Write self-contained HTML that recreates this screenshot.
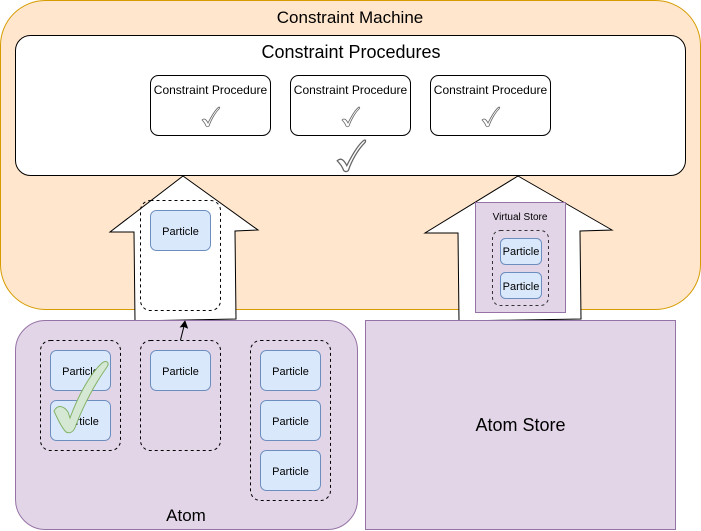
<!DOCTYPE html>
<html><head><meta charset="utf-8"><style>
html,body{margin:0;padding:0;background:#fff}
svg{display:block}
text{font-family:"Liberation Sans",Arial,sans-serif;fill:#000}
</style></head><body>
<svg width="701" height="531" viewBox="0 0 701 531" xmlns="http://www.w3.org/2000/svg">
<defs>
<path id="chk" d="M-8,3 C-6,1 -4,2 -2,6 C2,-2 6,-8 9,-10 C10,-10 10,-9 9,-8 C5,-4 1,3 -1,9 C-2,10 -3,10 -4,9 C-5,6 -7,4 -8,3 Z" fill="#fff" stroke="#666" stroke-width="0.8"/>
</defs>
<rect x="0.5" y="0.5" width="700" height="309" rx="45" fill="#ffe6cc" stroke="#d79b00"/>
<text x="350" y="23" font-size="17" text-anchor="middle">Constraint Machine</text>
<rect x="15.5" y="35.5" width="670" height="140" rx="15" fill="#fff" stroke="#000"/>
<text x="351" y="58" font-size="18" text-anchor="middle">Constraint Procedures</text>
<g font-size="12" text-anchor="middle">
<rect x="150.5" y="75.5" width="120" height="60" rx="8" fill="#fff" stroke="#000"/>
<text x="210.5" y="94">Constraint Procedure</text>
<rect x="290.5" y="75.5" width="120" height="60" rx="8" fill="#fff" stroke="#000"/>
<text x="350.5" y="94">Constraint Procedure</text>
<rect x="430.5" y="75.5" width="120" height="60" rx="8" fill="#fff" stroke="#000"/>
<text x="490.5" y="94">Constraint Procedure</text>
</g>
<use href="#chk" transform="translate(210,117)"/>
<use href="#chk" transform="translate(350,117)"/>
<use href="#chk" transform="translate(490,117)"/>
<use href="#chk" transform="translate(350,156) scale(1.6)"/>

<path d="M183,176 L258,230 L235,231 L236,319 L135,321 L134,232 L110,232 Z" fill="#fff" stroke="#000"/>
<rect x="140.5" y="200.5" width="80" height="110" rx="10" fill="none" stroke="#000" stroke-dasharray="3,3"/>
<rect x="150.5" y="210.5" width="60" height="40" rx="6" fill="#dae8fc" stroke="#6c8ebf"/>
<text x="180.5" y="235" font-size="11" text-anchor="middle">Particle</text>

<path d="M518,176 L612,230 L580,231 L581,319 L459,321 L458,233 L425,233 Z" fill="#fff" stroke="#000"/>
<rect x="475.5" y="202.5" width="90" height="110" fill="#e1d5e7" stroke="#9673a6"/>
<text x="520" y="220" font-size="10" text-anchor="middle">Virtual Store</text>
<rect x="492.5" y="230.5" width="56" height="75" rx="8" fill="none" stroke="#333" stroke-dasharray="3,3"/>
<rect x="500.5" y="238.5" width="41" height="26" rx="5" fill="#dae8fc" stroke="#6c8ebf"/>
<text x="521" y="255" font-size="11" text-anchor="middle">Particle</text>
<rect x="500.5" y="272.5" width="41" height="26" rx="5" fill="#dae8fc" stroke="#6c8ebf"/>
<text x="521" y="290" font-size="11" text-anchor="middle">Particle</text>

<rect x="15.5" y="320.5" width="342" height="209" rx="30" fill="#e1d5e7" stroke="#9673a6"/>
<text x="186" y="521" font-size="17" text-anchor="middle">Atom</text>
<g fill="none" stroke="#000" stroke-dasharray="3,3">
<rect x="40.5" y="340.5" width="80" height="110" rx="10"/>
<rect x="140.5" y="340.5" width="80" height="110" rx="10"/>
<rect x="250.5" y="340.5" width="80" height="160" rx="10"/>
</g>
<g fill="#dae8fc" stroke="#6c8ebf">
<rect x="50.5" y="350.5" width="60" height="40" rx="6"/>
<rect x="50.5" y="400.5" width="60" height="40" rx="6"/>
<rect x="150.5" y="350.5" width="60" height="40" rx="6"/>
<rect x="260.5" y="350.5" width="60" height="40" rx="6"/>
<rect x="260.5" y="400.5" width="60" height="40" rx="6"/>
<rect x="260.5" y="450.5" width="60" height="40" rx="6"/>
</g>
<g font-size="11" text-anchor="middle">
<text x="80.5" y="375">Particle</text>
<text x="80.5" y="425">Particle</text>
<text x="180.5" y="375">Particle</text>
<text x="290.5" y="375">Particle</text>
<text x="290.5" y="425">Particle</text>
<text x="290.5" y="475">Particle</text>
</g>
<path d="M54,411 C58,404 64,406 68,412 L70,418 C78,396 90,374 102,363 C106,360 110,362 107,367 C96,382 84,404 76,425 C74,432 70,434 66,432 C62,428 58,420 54,411 Z" fill="#d5e8d4" stroke="#82b366"/>
<line x1="180.5" y1="340" x2="184" y2="326" stroke="#000"/>
<path d="M185,321 L187.5,328 L184,326.5 L180.5,327 Z" fill="#000" stroke="#000" stroke-width="0.8"/>

<rect x="365.5" y="320.5" width="310" height="209" fill="#e1d5e7" stroke="#9673a6"/>
<text x="520.5" y="431" font-size="18" text-anchor="middle">Atom Store</text>
</svg>
</body></html>
